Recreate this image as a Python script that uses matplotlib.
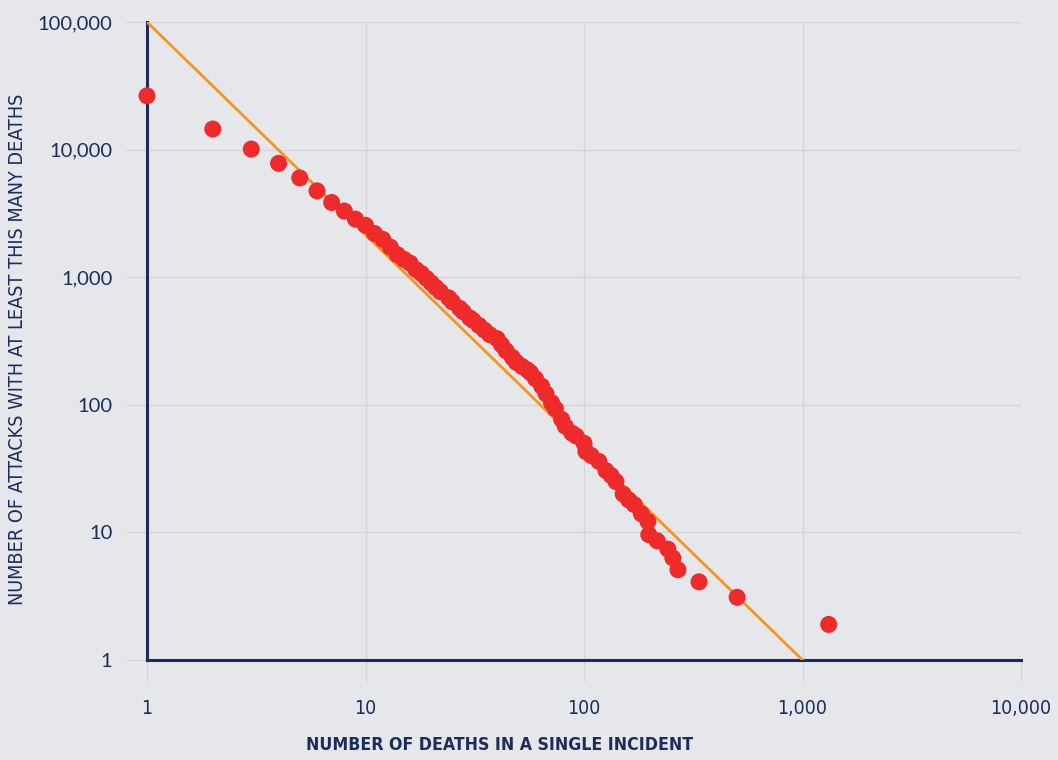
import matplotlib
matplotlib.use('Agg')
import matplotlib.pyplot as plt
from matplotlib.ticker import FixedLocator, NullLocator

# deaths per incident vs number of attacks with at least that many deaths
deaths = [1, 2, 3, 4, 5, 6, 7, 8, 9, 10, 11, 12, 13, 14, 15, 16, 17, 18, 19, 20,
          21, 22, 24, 25, 27, 28, 30, 31, 33, 35, 37, 40, 42, 44, 47, 49, 52, 55,
          57, 60, 64, 67, 71, 74, 79, 82, 88, 92, 100, 102, 108, 117, 126, 133,
          140, 151, 160, 170, 183, 196, 198, 216, 242, 255, 269, 336, 502, 1318]
attacks = [26400, 14500, 10100, 7800, 6000, 4750, 3850, 3300, 2850, 2550, 2200,
           1980, 1720, 1500, 1380, 1290, 1150, 1070, 980, 900, 830, 770, 690, 640,
           570, 535, 480, 460, 420, 385, 355, 330, 295, 265, 235, 215, 200, 188,
           178, 160, 140, 122, 104, 93, 77, 68, 60, 57, 50, 43, 40, 36, 30.5, 28,
           25, 20, 18, 16.5, 14, 12.2, 9.6, 8.6, 7.4, 6.3, 5.1, 4.1, 3.1, 1.9]

# power-law reference line
fit_x = [1, 1000]
fit_y = [100000, 1]

x_ticks = [1, 10, 100, 1000, 10000]
x_labels = ['1', '10', '100', '1,000', '10,000']
y_ticks = [1, 10, 100, 1000, 10000, 100000]
y_labels = ['1', '10', '100', '1,000', '10,000', '100,000']

bg = '#e5e7ea'
navy = '#1d2d5b'
grid = '#d2d4d8'

fig = plt.figure(figsize=(10.58, 7.6), dpi=100, facecolor=bg)
ax = fig.add_axes([147 / 1058, 100 / 760, 874 / 1058, 638 / 760], facecolor=bg)
ax.set_xscale('log')
ax.set_yscale('log')
ax.set_xlim(1, 10000)
ax.set_ylim(1, 100000)

ax.plot(fit_x, fit_y, color='#f7941d', lw=2.0, zorder=4)
ax.scatter(deaths, attacks, s=150, color='#ee2a2a', edgecolors='none',
           zorder=5, clip_on=False)

ax.xaxis.set_major_locator(FixedLocator(x_ticks))
ax.yaxis.set_major_locator(FixedLocator(y_ticks))
ax.xaxis.set_minor_locator(NullLocator())
ax.yaxis.set_minor_locator(NullLocator())
ax.set_xticklabels(x_labels, family='DejaVu Sans', fontstretch='condensed',
                   fontsize=14, color=navy)
ax.set_yticklabels(y_labels, family='Lato', fontsize=14.5, color=navy)
ax.tick_params(axis='both', length=15, width=1, color=grid)
ax.tick_params(axis='x', pad=13)
ax.tick_params(axis='y', pad=10)
ax.grid(True, color=grid, lw=1, zorder=0)
ax.set_axisbelow(True)

for s in ['top', 'right']:
    ax.spines[s].set_visible(False)
for s in ['left', 'bottom']:
    ax.spines[s].set_color(navy)
    ax.spines[s].set_linewidth(2.2)
    ax.spines[s].set_zorder(3)

fig.text(500 / 1058, 1 - 745 / 760, 'NUMBER OF DEATHS IN A SINGLE INCIDENT',
         family='DejaVu Sans', fontstretch='condensed', fontsize=12.7,
         fontweight='bold', color=navy, ha='center', va='center')
fig.text(18 / 1058, 1 - 349 / 760, 'NUMBER OF ATTACKS WITH AT LEAST THIS MANY DEATHS',
         family='DejaVu Sans', fontstretch='condensed', fontsize=14.2,
         fontweight='medium', color=navy, rotation=90, ha='center', va='center')

fig.savefig('out.png', dpi=100, facecolor=bg)
